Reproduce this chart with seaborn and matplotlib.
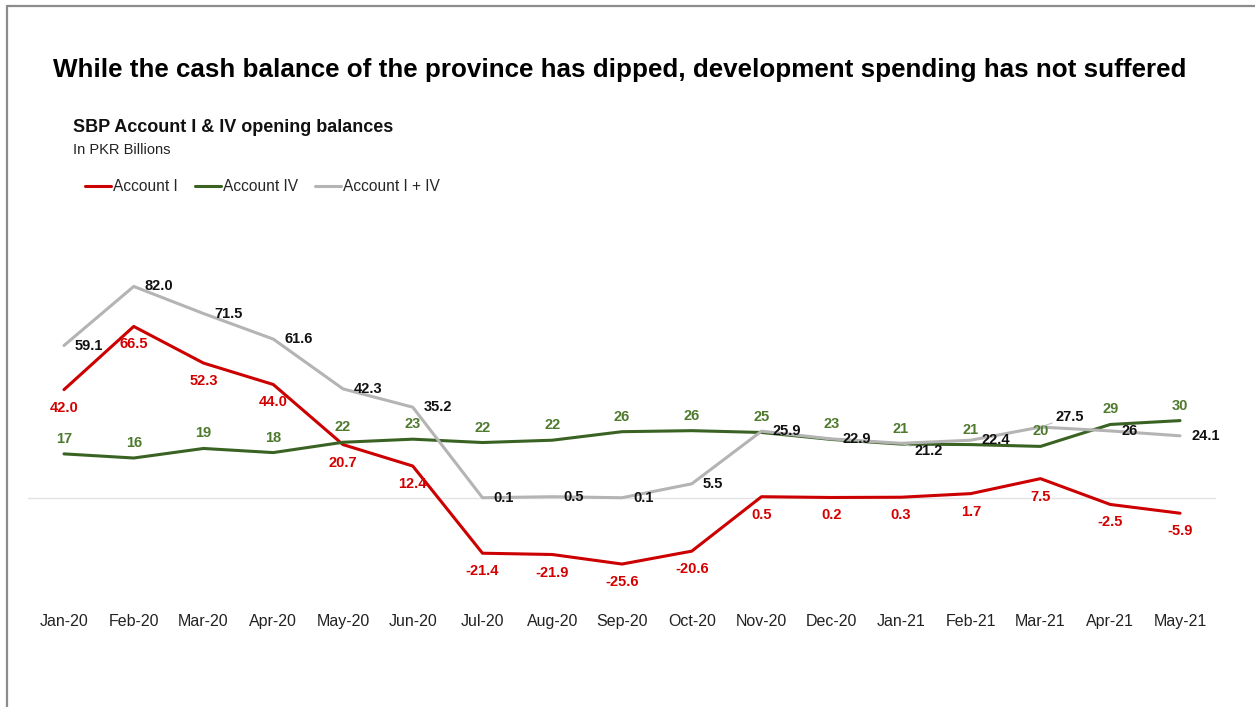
import matplotlib
matplotlib.use("Agg")
import math
import matplotlib.pyplot as plt
from matplotlib.lines import Line2D
import numpy as np
import pandas as pd
import seaborn as sns

# ---- data (PKR billions, opening balances) ----
months = ["Jan-20", "Feb-20", "Mar-20", "Apr-20", "May-20", "Jun-20", "Jul-20",
          "Aug-20", "Sep-20", "Oct-20", "Nov-20", "Dec-20", "Jan-21", "Feb-21",
          "Mar-21", "Apr-21", "May-21"]
account_1 = [42.0, 66.5, 52.3, 44.0, 20.7, 12.4, -21.4, -21.9, -25.6, -20.6,
             0.5, 0.2, 0.3, 1.7, 7.5, -2.5, -5.9]
account_4 = [17.1, 15.5, 19.2, 17.6, 21.6, 22.8, 21.5, 22.4, 25.7, 26.1,
             25.4, 22.7, 20.9, 20.7, 20.0, 28.5, 30.0]
account_1_4 = [59.1, 82.0, 71.5, 61.6, 42.3, 35.2, 0.1, 0.5, 0.1, 5.5,
               25.9, 22.9, 21.2, 22.4, 27.5, 26, 24.1]

series_names = ["Account I", "Account IV", "Account I + IV"]

title = "While the cash balance of the province has dipped, development spending has not suffered"
subtitle = "SBP Account I & IV opening balances"
unit_note = "In PKR Billions"

# ---- styling ----
RED = "#CC0000"
GREEN = "#3A6323"
GREY = "#B4B4B4"
RED_LBL = "#D40000"
GREEN_LBL = "#4E7A2E"
FONT = "Liberation Sans"

sns.set_theme(style="white")
plt.rcParams["font.family"] = [FONT, "DejaVu Sans"]

W, H = 1255, 707
fig = plt.figure(figsize=(W / 100, H / 100), dpi=100)

# axes placed in pixel terms: x from 28 to 1216, y range -40..100
y_lo, y_hi = -40, 100
px_per_unit = 2.58
zero_px = 498
top_px = zero_px - y_hi * px_per_unit
bot_px = zero_px - y_lo * px_per_unit
ax = fig.add_axes([28 / W, 1 - bot_px / H, (1216 - 28) / W, (bot_px - top_px) / H])

idx = np.arange(len(months))
df = pd.DataFrame({
    "idx": np.concatenate([idx, idx, idx]),
    "value": account_1 + account_4 + account_1_4,
    "series": np.repeat(series_names, len(months)),
})

# zero reference line
ax.axhline(0, color="#E3E3E3", lw=1.0, zorder=0)

sns.lineplot(data=df, x="idx", y="value", hue="series", hue_order=series_names,
             palette={"Account I": RED, "Account IV": GREEN, "Account I + IV": GREY},
             linewidth=2.2, ax=ax, legend=False, sort=False)

ax.set_xlim(-0.516, len(months) - 1 + 0.516)
ax.set_ylim(y_lo, y_hi)
ax.set_xticks(idx)
ax.set_xticklabels(months, fontsize=11.5, color="#222222")
ax.tick_params(axis="x", length=0, pad=9)
ax.set_yticks([])
ax.set_xlabel("")
ax.set_ylabel("")
for s in ax.spines.values():
    s.set_visible(False)

lbl_font = dict(fontsize=10.5, fontweight="bold", family=[FONT, "DejaVu Sans"])

# Account I labels below the points
for i, v in enumerate(account_1):
    ax.annotate(f"{v:.1f}", (i, v), xytext=(0, -18), textcoords="offset pixels",
                ha="center", va="center", color=RED_LBL, **lbl_font)

# Account IV labels above the points, rounded to whole billions
for i, v in enumerate(account_4):
    ax.annotate(f"{math.floor(v + 0.5)}", (i, v), xytext=(0, 15), textcoords="offset pixels",
                ha="center", va="center", color=GREEN_LBL, **lbl_font)

# Account I + IV labels to the right of the points
shifted = {12: (13, -8), 14: (15, 10)}
for i, v in enumerate(account_1_4):
    text = str(v) if isinstance(v, int) else f"{v:.1f}"
    dx, dy = shifted.get(i, (11, 0))
    arrow = None
    if i in shifted:
        arrow = dict(arrowstyle="-", color="#BFBFBF", lw=0.8, shrinkA=0, shrinkB=2)
    ax.annotate(text, (i, v), xytext=(dx, dy), textcoords="offset pixels",
                ha="left", va="center", color="#111111", arrowprops=arrow, **lbl_font)

# headings
fig.text(53 / W, 1 - 70 / H, title, fontsize=18.7, fontweight="bold",
         ha="left", va="center", color="black")
fig.text(73 / W, 1 - 127 / H, subtitle, fontsize=13, fontweight="bold",
         ha="left", va="center", color="#111111")
fig.text(73 / W, 1 - 150 / H, unit_note, fontsize=10.5, ha="left", va="center",
         color="#222222")

# legend
handles = [Line2D([], [], color=c, lw=2.2) for c in (RED, GREEN, GREY)]
fig.legend(handles, series_names, loc="center left",
           bbox_to_anchor=(85 / W, 1 - 187 / H), frameon=False, ncol=3,
           fontsize=11.2, handlelength=1.65, handletextpad=0.15, columnspacing=1.1,
           borderaxespad=0, borderpad=0)

# frame lines on the left and top edges
fig.add_artist(Line2D([7 / W, 7 / W], [0, 1 - 6 / H], transform=fig.transFigure,
                      color="#8C8C8C", lw=1.6))
fig.add_artist(Line2D([7 / W, 1], [1 - 6 / H, 1 - 6 / H], transform=fig.transFigure,
                      color="#8C8C8C", lw=1.6))

fig.savefig("out.png", dpi=100, facecolor="white")
